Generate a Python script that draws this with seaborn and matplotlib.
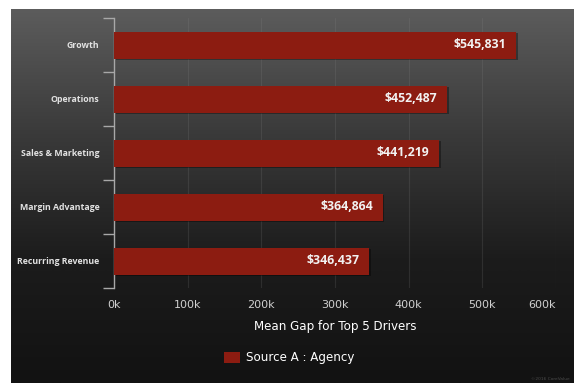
import numpy as np
import pandas as pd
import matplotlib
matplotlib.use("Agg")
import matplotlib.pyplot as plt
import matplotlib.patheffects as pe
import matplotlib.transforms as mtransforms
from matplotlib.patches import Rectangle
from matplotlib.ticker import FixedLocator, FuncFormatter
import seaborn as sns

# Data
drivers = ["Growth", "Operations", "Sales & Marketing", "Margin Advantage", "Recurring Revenue"]
mean_gap = [545831, 452487, 441219, 364864, 346437]
series_name = "Source A : Agency"
x_ticks = [0, 100000, 200000, 300000, 400000, 500000, 600000]
x_title = "Mean Gap for Top 5 Drivers"
footer = "©2016 CoreValue"

BAR = "#8c1c11"
TXT = "#e2e2e2"

sns.set_theme(style="dark")
plt.rcParams["font.family"] = ["DejaVu Sans"]

W, H = 574, 383
fig = plt.figure(figsize=(W / 100, H / 100), dpi=100, facecolor="white")

# Dark vertical gradient panel behind the chart
bg = fig.add_axes([11 / W, 0, 1 - 11 / W, 1 - 9 / H], zorder=-5)
grad = np.linspace(0, 1, 256).reshape(-1, 1)
cmap = matplotlib.colors.LinearSegmentedColormap.from_list(
    "panel", ["#5c5c5c", "#3a3a3a", "#1c1c1c", "#121212"])
bg.imshow(grad, aspect="auto", cmap=cmap, extent=[0, 1, 0, 1], origin="upper")
bg.set_axis_off()

ax = fig.add_axes([114 / W, 1 - 288 / H, (556 - 114) / W, (288 - 18) / H])
ax.set_facecolor("none")

df = pd.DataFrame({"driver": drivers, "gap": mean_gap})
sns.barplot(data=df, x="gap", y="driver", orient="h", color=BAR,
            saturation=1, width=0.5, ax=ax, edgecolor="none", zorder=3)

for patch in ax.patches:
    patch.set_path_effects([pe.SimplePatchShadow(offset=(1.2, -1.2), shadow_rgbFace="black", alpha=0.35),
                            pe.Normal()])

# Value labels inside the bar ends
for i, v in enumerate(mean_gap):
    ax.annotate(f"${v:,.0f}", xy=(v, i), xytext=(-7, 0), textcoords="offset points",
                ha="right", va="center", color="#f2f2f2", fontsize=8.8,
                fontweight="bold", family=["Open Sans", "DejaVu Sans"], zorder=5)

ax.set_xlim(0, 600000)
ax.set_ylim(len(drivers) - 0.5, -0.5)
ax.xaxis.set_major_locator(FixedLocator(x_ticks))
ax.xaxis.set_major_formatter(FuncFormatter(lambda v, p: f"{int(v / 1000)}k"))
ax.grid(axis="x", color="#8a8a8a", alpha=0.18, linewidth=0.8, zorder=0)
ax.grid(axis="y", visible=False)

for side in ["top", "right", "bottom"]:
    ax.spines[side].set_visible(False)
ax.spines["left"].set_color("#a8a8a8")
ax.spines["left"].set_linewidth(1.0)

# Category boundary ticks on the y axis
ax.yaxis.set_minor_locator(FixedLocator(np.arange(-0.5, len(drivers), 1.0)))
ax.tick_params(axis="y", which="minor", length=8, width=1.0, color="#a8a8a8", left=True)
ax.tick_params(axis="y", which="major", length=0, pad=10.5, labelcolor=TXT)
for lbl in ax.get_yticklabels():
    lbl.set_fontweight("bold")
    lbl.set_fontfamily(["Open Sans", "DejaVu Sans"])
    lbl.set_fontsize(6.3)
ax.tick_params(axis="x", which="major", length=0, pad=9, labelsize=8, labelcolor="#d0d0d0")

# Keep the last x tick label inside the panel
last = ax.get_xticklabels()[-1]
last.set_transform(last.get_transform() + mtransforms.ScaledTranslation(-14 / 100, 0, fig.dpi_scale_trans))

ax.set_ylabel("")
ax.set_xlabel(x_title, color="white", fontsize=8.6, labelpad=7)

# Legend below the axis title
leg_handle = Rectangle((0, 0), 1, 1, facecolor=BAR, edgecolor="none")
fig.legend([leg_handle], [series_name], loc="center", bbox_to_anchor=(289 / W, 1 - 358 / H),
           frameon=False, fontsize=8.6, labelcolor="white", handlelength=1.3,
           handleheight=1.1, handletextpad=0.5)

fig.text(570 / W, 1 - 379 / H, footer, ha="right", va="center", fontsize=3.2, color="#4a4a4a")

fig.savefig("out.png", dpi=100, facecolor="white")
